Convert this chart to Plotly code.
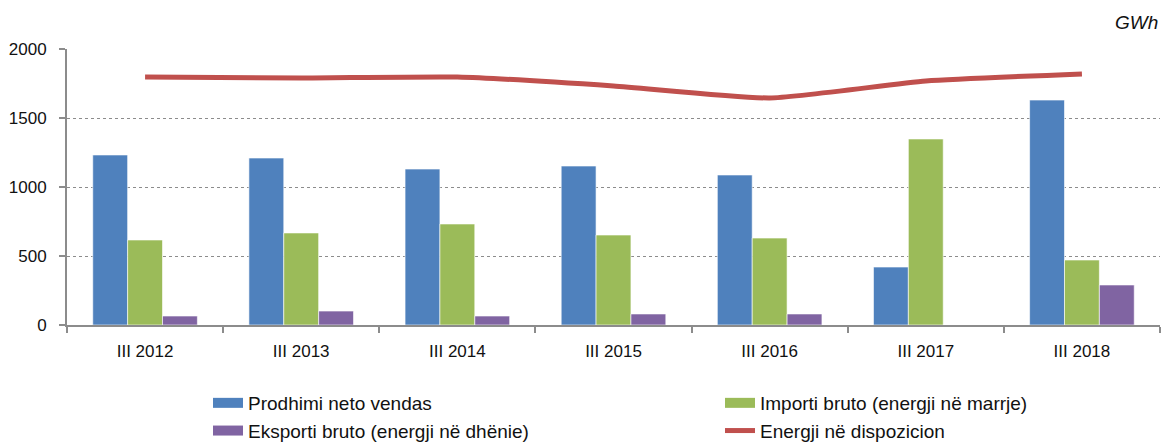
import plotly.graph_objects as go

categories = ["III 2012", "III 2013", "III 2014", "III 2015", "III 2016", "III 2017", "III 2018"]
prodhimi = [1232, 1210, 1130, 1152, 1087, 420, 1630]
importi = [616, 667, 732, 652, 630, 1348, 471]
eksporti = [65, 101, 65, 80, 80, 0, 290]
energji = [1797, 1790, 1797, 1732, 1645, 1768, 1819]

names = ["Prodhimi neto vendas", "Importi bruto (energji në marrje)",
         "Eksporti bruto (energji në dhënie)", "Energji në dispozicion"]
colors = ["#4F81BD", "#9BBB59", "#8064A2", "#C0504D"]
FONT = "Liberation Sans, Arial, sans-serif"

fig = go.Figure()
for vals, nm, col in zip([prodhimi, importi, eksporti], names[:3], colors[:3]):
    fig.add_trace(go.Bar(x=categories, y=vals, name=nm,
                         marker=dict(color=col, line=dict(color="rgba(255,255,255,0.6)", width=1)),
                         showlegend=False))
fig.add_trace(go.Scatter(x=categories, y=energji, mode="lines", name=names[3],
                         line=dict(color=colors[3], width=5, shape="spline", smoothing=0.5),
                         showlegend=False))

# legend entries (two legends = two columns)
leg_assign = ["legend", "legend2", "legend", "legend2"]
for i, (nm, col, w, lg) in enumerate(zip(names, colors, [11, 11, 11, 5], leg_assign)):
    fig.add_trace(go.Scatter(x=[None], y=[None], mode="lines", name=nm, legend=lg,
                             legendgroup=f"g{i}", line=dict(color=col, width=w)))

leg_common = dict(orientation="v", xref="container", yref="container", yanchor="top",
                  xanchor="left", y=1 - 384 / 443, font=dict(size=19, family=FONT, color="#111"),
                  tracegroupgap=0, bgcolor="rgba(0,0,0,0)", borderwidth=0)

fig.update_layout(
    width=1165, height=443,
    margin=dict(l=67, r=5, t=49, b=118, autoexpand=False),
    paper_bgcolor="white", plot_bgcolor="white",
    barmode="group", bargap=0.33, bargroupgap=0,
    font=dict(family=FONT, size=17, color="#111"),
    showlegend=True,
    legend=dict(x=208 / 1165, **leg_common),
    legend2=dict(x=720 / 1165, **leg_common),
    annotations=[dict(text="<i>GWh</i>", xref="paper", yref="paper", x=1.0, y=1 + 27 / 276,
                      xanchor="right", yanchor="middle", showarrow=False,
                      font=dict(family=FONT, size=19, color="#111"))],
)
fig.update_xaxes(type="category", showline=True, linecolor="#8c8c8c", linewidth=2,
                 ticks="outside", tickson="boundaries", ticklen=6, tickcolor="#8c8c8c", tickwidth=2,
                 showgrid=False, range=[-0.5, 6.5], ticklabelstandoff=10, tickangle=0)
fig.update_yaxes(range=[0, 2000], tickvals=[0, 500, 1000, 1500, 2000], showline=True,
                 linecolor="#8c8c8c", linewidth=2, ticks="outside", ticklen=6,
                 tickcolor="#8c8c8c", tickwidth=2, showgrid=True, gridcolor="#8c8c8c",
                 griddash="dot", gridwidth=1, zeroline=False, ticklabelstandoff=9)

fig.write_html("out.html")
